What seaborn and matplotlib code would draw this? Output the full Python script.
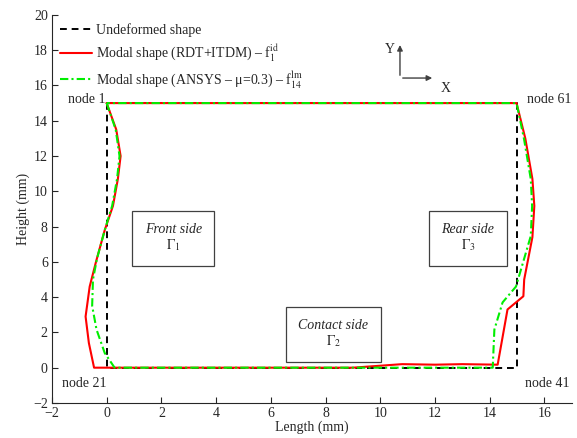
import matplotlib
matplotlib.use('Agg')
import matplotlib.pyplot as plt
import seaborn as sns

# ── Data (mm) ─────────────────────────────────────────
undeformed_x = [0, 0, 15, 15, 0]
undeformed_y = [15, 0, 0, 15, 15]

rdt_x = [0, 0.35, 0.51, 0.41, 0.23, -0.07, -0.39, -0.62, -0.77, -0.65, -0.46,
         9.0, 10.8, 12.0, 13.0, 14.29, 14.65, 15.23, 15.26, 15.56, 15.63, 15.56, 15.3, 14.98, 0]
rdt_y = [15, 13.5, 12.0, 10.7, 9.17, 7.8, 6.0, 4.6, 2.9, 1.4, 0.0,
         0.0, 0.2, 0.17, 0.2, 0.17, 3.3, 4.05, 5.0, 7.4, 9.17, 10.7, 13.0, 15, 15]

ansys_x = [0, 0.33, 0.47, 0.38, 0.2, -0.07, -0.35, -0.5, -0.53, -0.37, -0.07, 0.29,
           14.11, 14.17, 14.47, 14.96, 15.5, 15.55, 15.5, 15.25, 14.98, 0]
ansys_y = [15, 13.5, 12.0, 10.7, 9.17, 7.8, 6.2, 5.0, 3.5, 2.16, 0.83, 0.0,
           0.0, 2.16, 3.7, 4.6, 7.46, 9.17, 10.7, 13.0, 15, 15]

labels = ['Undeformed shape',
          r'Modal shape (RDT+ITDM) – f$_{1}^{\rm id}$',
          r'Modal shape (ANSYS – μ=0.3) – f$_{14}^{\rm lm}$']

# ── Style ─────────────────────────────────────────────
sns.set_style('white')
plt.rcParams['font.family'] = ['Liberation Serif', 'DejaVu Serif']
plt.rcParams['mathtext.fontset'] = 'stix'
plt.rcParams['font.size'] = 10

fig = plt.figure(figsize=(5.77, 4.38), dpi=100)
ax = fig.add_axes([0.090, 0.080, 0.901, 0.886])

sns.lineplot(x=undeformed_x, y=undeformed_y, sort=False, estimator=None, ax=ax,
             color='black', linestyle=(0, (3.5, 2.5)), linewidth=1.4, label=labels[0])
sns.lineplot(x=rdt_x, y=rdt_y, sort=False, estimator=None, ax=ax,
             color='red', linewidth=1.5, label=labels[1])
sns.lineplot(x=ansys_x, y=ansys_y, sort=False, estimator=None, ax=ax,
             color='#00ee00', linestyle=(0, (4, 1.5, 1, 1.5)), linewidth=1.5, label=labels[2])

ax.set_xlim(-2, 17)
ax.set_ylim(-2, 20)
ax.set_xticks(range(-2, 17, 2))
ax.set_yticks(range(-2, 21, 2))
ax.set_xlabel('Length (mm)', labelpad=0)
ax.set_ylabel('Height (mm)', labelpad=2)
ax.tick_params(direction='in', length=4, width=0.8, colors='#262626', pad=3,
               bottom=True, left=True)
for s in ['top', 'right']:
    ax.spines[s].set_visible(False)
for s in ['left', 'bottom']:
    ax.spines[s].set_color('#262626')
    ax.spines[s].set_linewidth(0.8)

ax.legend(loc='upper left', frameon=False, handlelength=2.3, handletextpad=0.3,
          borderaxespad=0.2, labelspacing=0.4, fontsize=10)

# ── Annotations ──────────────────────────────────────
box = dict(boxstyle='square,pad=0.9', facecolor='white', edgecolor='#404040', linewidth=0.9)
ax.text(2.43, 7.35, 'Front side\n$\\Gamma_{\\mathit{1}}$', ha='center', va='center',
        style='italic', bbox=box, linespacing=1.1)
ax.text(13.2, 7.35, 'Rear side\n$\\Gamma_{\\mathit{3}}$', ha='center', va='center',
        style='italic', bbox=box, linespacing=1.1)
ax.text(8.28, 1.9, 'Contact side\n$\\Gamma_{2}$', ha='center', va='center',
        style='italic', bbox=box, linespacing=1.1)

ax.text(-0.05, 15.2, 'node 1', ha='right', va='center')
ax.text(15.35, 15.2, 'node 61', ha='left', va='center')
ax.text(0, -0.5, 'node 21', ha='right', va='top')
ax.text(15.3, -0.5, 'node 41', ha='left', va='top')

arrow = dict(arrowstyle='-|>', color='#404040', linewidth=1.0, mutation_scale=8)
ax.annotate('', xy=(10.72, 18.45), xytext=(10.72, 16.42), arrowprops=arrow)
ax.annotate('', xy=(12.0, 16.42), xytext=(10.72, 16.42), arrowprops=arrow)
ax.text(10.55, 18.05, 'Y', ha='right', va='center')
ax.text(12.2, 15.8, 'X', ha='left', va='center')

plt.savefig('out.png', dpi=100)
